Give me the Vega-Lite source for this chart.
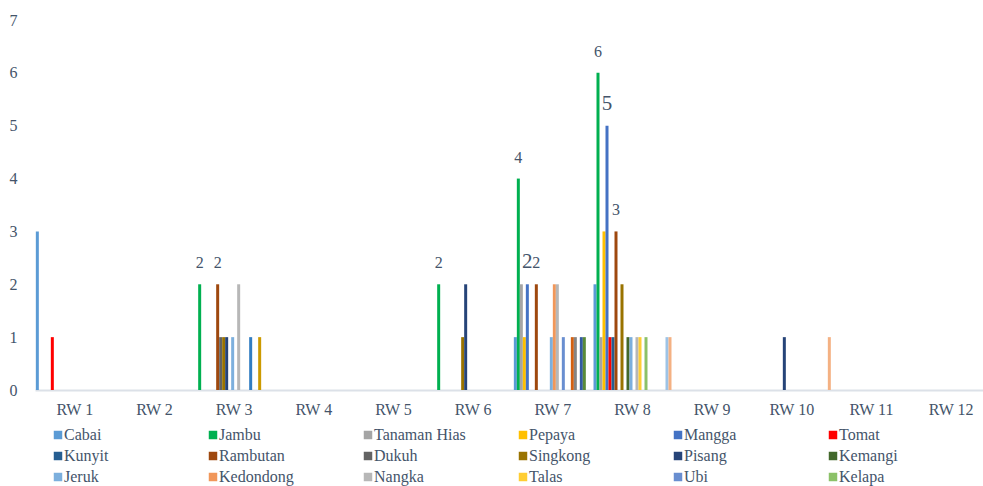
{
  "$schema": "https://vega.github.io/schema/vega-lite/v6.json",
  "width": 948,
  "height": 370,
  "autosize": {"type": "none"},
  "padding": {"left": 35, "top": 20, "right": 0, "bottom": 96},
  "config": {"view": {"stroke": null}, "font": "Liberation Serif"},
  "data": {
    "values": [
      {"rw": "RW 1", "series": "Cabai", "value": 3},
      {"rw": "RW 1", "series": "Tomat", "value": 1},
      {"rw": "RW 3", "series": "Jambu", "value": 2},
      {"rw": "RW 3", "series": "Rambutan", "value": 2},
      {"rw": "RW 3", "series": "Dukuh", "value": 1},
      {"rw": "RW 3", "series": "Singkong", "value": 1},
      {"rw": "RW 3", "series": "Pisang", "value": 1},
      {"rw": "RW 3", "series": "Jeruk", "value": 1},
      {"rw": "RW 3", "series": "Nangka", "value": 2},
      {"rw": "RW 3", "series": "Seri 19", "value": 1},
      {"rw": "RW 3", "series": "Seri 22", "value": 1},
      {"rw": "RW 6", "series": "Jambu", "value": 2},
      {"rw": "RW 6", "series": "Singkong", "value": 1},
      {"rw": "RW 6", "series": "Pisang", "value": 2},
      {"rw": "RW 7", "series": "Cabai", "value": 1},
      {"rw": "RW 7", "series": "Jambu", "value": 4},
      {"rw": "RW 7", "series": "Tanaman Hias", "value": 2},
      {"rw": "RW 7", "series": "Pepaya", "value": 1},
      {"rw": "RW 7", "series": "Mangga", "value": 2},
      {"rw": "RW 7", "series": "Rambutan", "value": 2},
      {"rw": "RW 7", "series": "Jeruk", "value": 1},
      {"rw": "RW 7", "series": "Kedondong", "value": 2},
      {"rw": "RW 7", "series": "Nangka", "value": 2},
      {"rw": "RW 7", "series": "Ubi", "value": 1},
      {"rw": "RW 7", "series": "Seri 20", "value": 1},
      {"rw": "RW 7", "series": "Seri 21", "value": 1},
      {"rw": "RW 7", "series": "Seri 23", "value": 1},
      {"rw": "RW 7", "series": "Seri 24", "value": 1},
      {"rw": "RW 8", "series": "Cabai", "value": 2},
      {"rw": "RW 8", "series": "Jambu", "value": 6},
      {"rw": "RW 8", "series": "Tanaman Hias", "value": 1},
      {"rw": "RW 8", "series": "Pepaya", "value": 3},
      {"rw": "RW 8", "series": "Mangga", "value": 5},
      {"rw": "RW 8", "series": "Tomat", "value": 1},
      {"rw": "RW 8", "series": "Kunyit", "value": 1},
      {"rw": "RW 8", "series": "Rambutan", "value": 3},
      {"rw": "RW 8", "series": "Singkong", "value": 2},
      {"rw": "RW 8", "series": "Kemangi", "value": 1},
      {"rw": "RW 8", "series": "Jeruk", "value": 1},
      {"rw": "RW 8", "series": "Nangka", "value": 1},
      {"rw": "RW 8", "series": "Talas", "value": 1},
      {"rw": "RW 8", "series": "Kelapa", "value": 1},
      {"rw": "RW 8", "series": "Seri 25", "value": 1},
      {"rw": "RW 8", "series": "Seri 26", "value": 1},
      {"rw": "RW 10", "series": "Pisang", "value": 1},
      {"rw": "RW 10", "series": "Seri 26", "value": 1}
    ]
  },
  "encoding": {
    "x": {
      "field": "rw",
      "type": "nominal",
      "sort": null,
      "scale": {
        "domain": ["RW 1", "RW 2", "RW 3", "RW 4", "RW 5", "RW 6", "RW 7", "RW 8", "RW 9", "RW 10", "RW 11", "RW 12"],
        "range": [0, 956],
        "paddingInner": 0.021,
        "paddingOuter": 0.0105
      },
      "axis": {
        "title": null,
        "labelAngle": 0,
        "ticks": false,
        "grid": false,
        "domainColor": "#DCE1E8",
        "domainWidth": 2,
        "labelPadding": 11,
        "labelFont": "Liberation Serif",
        "labelFontSize": 16,
        "labelColor": "#44546A"
      }
    },
    "xOffset": {
      "field": "series",
      "type": "nominal",
      "scale": {
        "domain": ["Cabai", "Jambu", "Tanaman Hias", "Pepaya", "Mangga", "Tomat", "Kunyit", "Rambutan", "Dukuh", "Singkong", "Pisang", "Kemangi", "Jeruk", "Kedondong", "Nangka", "Talas", "Ubi", "Kelapa", "Seri 19", "Seri 20", "Seri 21", "Seri 22", "Seri 23", "Seri 24", "Seri 25", "Seri 26"],
        "paddingInner": 0,
        "paddingOuter": 0
      }
    },
    "y": {
      "field": "value",
      "type": "quantitative",
      "scale": {"domain": [0, 7], "nice": false},
      "axis": {
        "title": null,
        "values": [0, 1, 2, 3, 4, 5, 6, 7],
        "domain": false,
        "ticks": false,
        "grid": false,
        "labelPadding": 18,
        "labelFont": "Liberation Serif",
        "labelFontSize": 16,
        "labelColor": "#44546A"
      }
    }
  },
  "layer": [
    {
      "mark": {"type": "bar"},
      "encoding": {
        "color": {
          "field": "series",
          "type": "nominal",
          "scale": {
            "domain": ["Cabai", "Jambu", "Tanaman Hias", "Pepaya", "Mangga", "Tomat", "Kunyit", "Rambutan", "Dukuh", "Singkong", "Pisang", "Kemangi", "Jeruk", "Kedondong", "Nangka", "Talas", "Ubi", "Kelapa", "Seri 19", "Seri 20", "Seri 21", "Seri 22", "Seri 23", "Seri 24", "Seri 25", "Seri 26"],
            "range": ["#5B9BD5", "#00B050", "#A5A5A5", "#FFC000", "#4472C4", "#FF0000", "#255E91", "#9E480E", "#636363", "#997300", "#264478", "#43682B", "#7CAFDD", "#F1975A", "#B7B7B7", "#FFCD33", "#698ED0", "#8CC168", "#327DC2", "#D26012", "#848484", "#CC9A00", "#335AA1", "#5A8A39", "#9DC3E6", "#F4B183"]
          },
          "legend": {
            "title": null,
            "values": ["Cabai", "Jambu", "Tanaman Hias", "Pepaya", "Mangga", "Tomat", "Kunyit", "Rambutan", "Dukuh", "Singkong", "Pisang", "Kemangi", "Jeruk", "Kedondong", "Nangka", "Talas", "Ubi", "Kelapa"],
            "orient": "none",
            "legendX": 15,
            "legendY": 407,
            "direction": "horizontal",
            "columns": 6,
            "gridAlign": "all",
            "columnPadding": 49,
            "rowPadding": 5,
            "symbolType": "square",
            "symbolSize": 72,
            "symbolStrokeWidth": 0,
            "labelOffset": -2,
            "labelFont": "Liberation Serif",
            "labelFontSize": 16,
            "labelColor": "#44546A",
            "labelLimit": 300
          }
        }
      }
    },
    {
      "transform": [{"filter": "datum.series === 'Jambu' || datum.series === 'Rambutan' || datum.series === 'Mangga'"}],
      "mark": {"type": "text", "dy": -16, "baseline": "alphabetic", "align": "center", "color": "#44546A", "font": "Liberation Serif"},
      "encoding": {
        "text": {"field": "value", "type": "quantitative"},
        "size": {"condition": {"test": "datum.series === 'Mangga'", "value": 21}, "value": 16}
      }
    }
  ]
}
